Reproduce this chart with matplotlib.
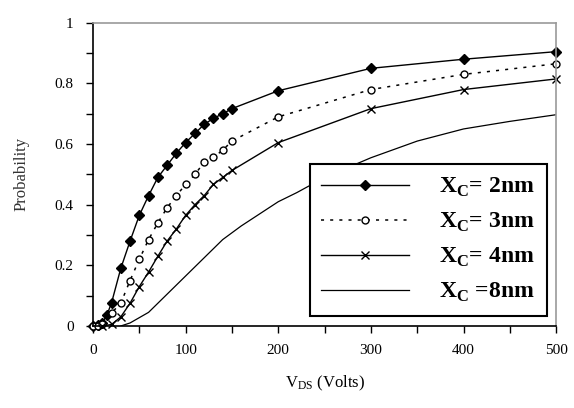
import matplotlib
matplotlib.use('Agg')
import matplotlib.pyplot as plt
import numpy as np

plt.rcParams['font.family'] = ['Liberation Serif', 'DejaVu Serif']
plt.rcParams['mathtext.fontset'] = 'custom'
plt.rcParams['mathtext.rm'] = 'Liberation Serif'
plt.rcParams['mathtext.bf'] = 'Liberation Serif:bold'

# XC = 2nm
x_2nm = [0, 5, 10, 15, 20, 30, 40, 50, 60, 70, 80, 90, 100, 110, 120, 130,
         140, 150, 200, 300, 400, 500]
y_2nm = [0, 0.003, 0.01, 0.036, 0.076, 0.19, 0.28, 0.365, 0.43, 0.49, 0.53,
         0.57, 0.605, 0.635, 0.665, 0.685, 0.70, 0.717, 0.776, 0.85, 0.88, 0.905]

# XC = 3nm
x_3nm = [0, 5, 10, 20, 30, 40, 50, 60, 70, 80, 90, 100, 110, 120, 130, 140,
         150, 200, 300, 400, 500]
y_3nm = [0, 0, 0.005, 0.043, 0.075, 0.15, 0.22, 0.285, 0.34, 0.39, 0.43,
         0.467, 0.50, 0.54, 0.556, 0.58, 0.61, 0.69, 0.78, 0.83, 0.865]

# XC = 4nm
x_4nm = [10, 20, 30, 40, 50, 60, 70, 80, 90, 100, 110, 120, 130, 140, 150,
         200, 300, 400, 500]
y_4nm = [0, 0.005, 0.03, 0.075, 0.13, 0.178, 0.23, 0.28, 0.32, 0.365, 0.40,
         0.43, 0.467, 0.49, 0.513, 0.605, 0.717, 0.78, 0.815]

# XC = 8nm
x_8nm = [30, 40, 60, 80, 100, 120, 140, 160, 180, 200, 220, 250, 300, 350,
         400, 450, 500]
y_8nm = [0, 0.01, 0.045, 0.105, 0.165, 0.225, 0.285, 0.33, 0.37, 0.41, 0.44,
         0.49, 0.555, 0.61, 0.65, 0.675, 0.697]

labels = [r'$\mathbf{X}_{\mathbf{C}}$= 2nm', r'$\mathbf{X}_{\mathbf{C}}$= 3nm',
          r'$\mathbf{X}_{\mathbf{C}}$= 4nm', r'$\mathbf{X}_{\mathbf{C}}$ =8nm']

fig = plt.figure(figsize=(5.74, 4.08), dpi=100)
ax = fig.add_axes([0.162, 0.201, 0.807, 0.743])

ax.plot(x_2nm, y_2nm, color='black', lw=1, marker='D', ms=5,
        mfc='black', mec='black', label=labels[0], clip_on=False)
ax.plot(x_3nm, y_3nm, color='black', lw=1.1, ls=(0, (2, 4)), marker='o',
        ms=5, mfc='white', mec='black', mew=1, label=labels[1], clip_on=False)
ax.plot(x_4nm, y_4nm, color='black', lw=1, marker='x', ms=6, mew=1,
        label=labels[2], clip_on=False)
ax.plot(x_8nm, y_8nm, color='black', lw=0.9, label=labels[3])

ax.set_xlim(0, 500)
ax.set_ylim(0, 1)
ax.set_xticks(np.arange(0, 501, 50))
ax.set_xticklabels([str(v) if v % 100 == 0 else '' for v in range(0, 501, 50)])
ax.set_yticks(np.arange(0, 1.01, 0.1))
ax.set_yticklabels(['0', '', '0.2', '', '0.4', '', '0.6', '', '0.8', '', '1'])
ax.tick_params(direction='out', length=5, width=1, labelsize=11)
ax.tick_params(axis='x', pad=8)
ax.tick_params(axis='y', pad=9)

for side in ['left', 'bottom']:
    ax.spines[side].set_linewidth(1.2)
for side in ['top', 'right']:
    ax.spines[side].set_color('#999999')
    ax.spines[side].set_linewidth(1.2)

ax.set_ylabel('Probability', fontsize=12, color='#333333', labelpad=18)
ax.set_xlabel(r'V$\mathregular{_{DS}}$ (Volts)', fontsize=12, labelpad=12)

leg = ax.legend(loc='lower right', bbox_to_anchor=(0.98, 0.033),
                prop={'weight': 'bold', 'size': 17}, handlelength=3.7,
                frameon=True, fancybox=False, edgecolor='black',
                framealpha=1, borderpad=0.5, labelspacing=0.5,
                handletextpad=1.3, borderaxespad=0)
leg.get_frame().set_linewidth(1.5)
leg.set_zorder(5)

fig.savefig('out.png', dpi=100)
plt.close(fig)
